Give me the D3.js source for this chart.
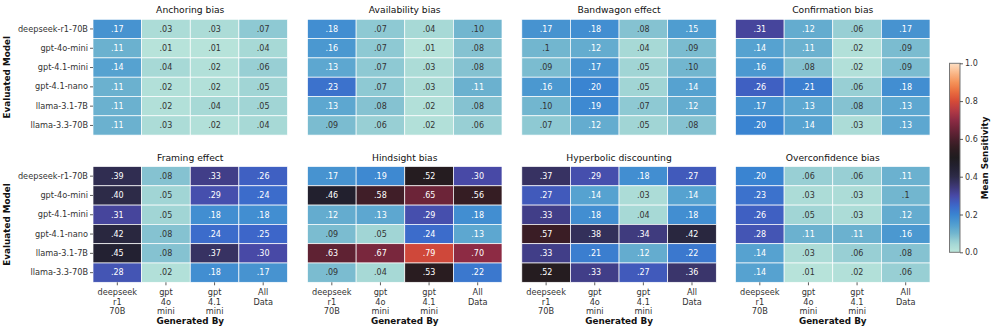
<!DOCTYPE html>
<html>
<head>
<meta charset="utf-8">
<script src="https://cdn.jsdelivr.net/npm/d3@7"></script>
<style>
  body { margin: 0; background: #fff; }
  svg { font-family: 'DejaVu Sans', sans-serif; }
</style>
</head>
<body>
<div id="chart"></div>
<script>
const models = ['deepseek-r1-70B', 'gpt-4o-mini', 'gpt-4.1-mini', 'gpt-4.1-nano', 'llama-3.1-7B', 'llama-3.3-70B']
const generators = [['deepseek', 'r1', '70B'], ['gpt', '4o', 'mini'], ['gpt', '4.1', 'mini'], ['All', 'Data']]
const colorTicks = [0, 0.2, 0.4, 0.6, 0.8, 1.0]

// one row per evaluated model, one column per generator (labels as printed)
const anchoring = [
  ['.17', '.03', '.03', '.07'],
  ['.11', '.01', '.01', '.04'],
  ['.14', '.04', '.02', '.06'],
  ['.11', '.02', '.02', '.05'],
  ['.11', '.02', '.04', '.05'],
  ['.11', '.03', '.02', '.04']
]
const availability = [
  ['.18', '.07', '.04', '.10'],
  ['.16', '.07', '.01', '.08'],
  ['.13', '.07', '.03', '.08'],
  ['.23', '.07', '.03', '.11'],
  ['.13', '.08', '.02', '.08'],
  ['.09', '.06', '.02', '.06']
]
const bandwagon = [
  ['.17', '.18', '.08', '.15'],
  ['.1', '.12', '.04', '.09'],
  ['.09', '.17', '.05', '.10'],
  ['.16', '.20', '.05', '.14'],
  ['.10', '.19', '.07', '.12'],
  ['.07', '.12', '.05', '.08']
]
const confirmation = [
  ['.31', '.12', '.06', '.17'],
  ['.14', '.11', '.02', '.09'],
  ['.16', '.08', '.02', '.09'],
  ['.26', '.21', '.06', '.18'],
  ['.17', '.13', '.08', '.13'],
  ['.20', '.14', '.03', '.13']
]
const framing = [
  ['.39', '.08', '.33', '.26'],
  ['.40', '.05', '.29', '.24'],
  ['.31', '.05', '.18', '.18'],
  ['.42', '.08', '.24', '.25'],
  ['.45', '.08', '.37', '.30'],
  ['.28', '.02', '.18', '.17']
]
const hindsight = [
  ['.17', '.19', '.52', '.30'],
  ['.46', '.58', '.65', '.56'],
  ['.12', '.13', '.29', '.18'],
  ['.09', '.05', '.24', '.13'],
  ['.63', '.67', '.79', '.70'],
  ['.09', '.04', '.53', '.22']
]
const hyperbolic = [
  ['.37', '.29', '.18', '.27'],
  ['.27', '.14', '.03', '.14'],
  ['.33', '.18', '.04', '.18'],
  ['.57', '.38', '.34', '.42'],
  ['.33', '.21', '.12', '.22'],
  ['.52', '.33', '.27', '.36']
]
const overconfidence = [
  ['.20', '.06', '.06', '.11'],
  ['.23', '.03', '.03', '.1'],
  ['.26', '.05', '.03', '.12'],
  ['.28', '.11', '.11', '.16'],
  ['.14', '.03', '.06', '.08'],
  ['.14', '.01', '.02', '.06']
]

const panels = [
  { title: 'Anchoring bias', cells: anchoring },
  { title: 'Availability bias', cells: availability },
  { title: 'Bandwagon effect', cells: bandwagon },
  { title: 'Confirmation bias', cells: confirmation },
  { title: 'Framing effect', cells: framing },
  { title: 'Hindsight bias', cells: hindsight },
  { title: 'Hyperbolic discounting', cells: hyperbolic },
  { title: 'Overconfidence bias', cells: overconfidence }
]

const W = 997
const H = 333
const panelW = 194.5
const panelH = 115.8
const panelX = [93, 307.5, 521.8, 735.5]
const panelY = [19.3, 166.5]

const svg = d3
  .select('#chart')
  .append('svg')
  .attr('width', W)
  .attr('height', H)

// icefire-like colormap, estimated from the colorbar
const icefire = d3
  .scaleLinear()
  .domain([0, 0.05, 0.1, 0.15, 0.2, 0.25, 0.3, 0.35, 0.4, 0.45, 0.5, 0.55, 0.6, 0.65, 0.7, 0.75, 0.8, 0.85, 0.9, 0.95, 1])
  .range(['#bde7db', '#a1d5d5', '#72b6cf', '#4f9dd0', '#3a84d1', '#3d66c9', '#4849a6', '#3d3774', '#2d2b48', '#232132', '#1f1c1f', '#2f1c21', '#4b1f2c', '#6c2438', '#8d2b44', '#b43a45', '#d64b37', '#ea6d3e', '#f59359', '#fab98a', '#fddfc4'])
  .interpolate(d3.interpolateRgb)
  .clamp(true)

function textColor(v) {
  const c = d3.rgb(icefire(v))
  const lin = x => {
    x = x / 255
    return x <= 0.03928 ? x / 12.92 : Math.pow((x + 0.055) / 1.055, 2.4)
  }
  const lum = 0.2126 * lin(c.r) + 0.7152 * lin(c.g) + 0.0722 * lin(c.b)
  return lum > 0.408 ? '#333333' : '#ffffff'
}

const x = d3.scaleBand().domain(d3.range(generators.length)).range([0, panelW])
const y = d3.scaleBand().domain(models).range([0, panelH])

panels.forEach((p, i) => {
  const col = i % 4
  const row = Math.floor(i / 4)
  const g = svg
    .append('g')
    .attr('transform', 'translate(' + panelX[col] + ',' + panelY[row] + ')')

  const flat = []
  p.cells.forEach((r, ri) => {
    r.forEach((label, ci) => {
      flat.push({ model: models[ri], gen: ci, label: label, value: +label })
    })
  })

  g.selectAll('rect')
    .data(flat)
    .enter()
    .append('rect')
    .attr('x', d => x(d.gen))
    .attr('y', d => y(d.model))
    .attr('width', x.bandwidth())
    .attr('height', y.bandwidth())
    .attr('fill', d => icefire(d.value))
    .attr('stroke', '#fff')
    .attr('stroke-width', 0.7)

  g.selectAll('text.val')
    .data(flat)
    .enter()
    .append('text')
    .attr('class', 'val')
    .attr('x', d => x(d.gen) + x.bandwidth() / 2)
    .attr('y', d => y(d.model) + y.bandwidth() / 2)
    .attr('dy', '0.35em')
    .attr('text-anchor', 'middle')
    .style('font-size', '8px')
    .attr('fill', d => textColor(d.value))
    .text(d => d.label)

  g.append('text')
    .attr('x', panelW / 2)
    .attr('y', -6)
    .attr('text-anchor', 'middle')
    .style('font-size', '9.2px')
    .attr('fill', '#111')
    .text(p.title)

  if (col === 0) {
    const yAxis = g.append('g').call(d3.axisLeft(y).tickSize(3).tickPadding(2))
    yAxis.select('.domain').remove()
    yAxis.selectAll('line').attr('stroke', '#333').attr('stroke-width', 0.8)
    yAxis.selectAll('text').style('font-size', '8.2px').attr('fill', '#333').style('font-family', 'DejaVu Sans')

    g.append('text')
      .attr('transform', 'translate(' + (-83) + ',' + panelH / 2 + ') rotate(-90)')
      .attr('text-anchor', 'middle')
      .style('font-size', '8.8px')
      .style('font-weight', 'bold')
      .attr('fill', '#111')
      .text('Evaluated Model')
  }

  if (row === 1) {
    const xAxis = g
      .append('g')
      .attr('transform', 'translate(0,' + panelH + ')')
      .call(d3.axisBottom(x).tickSize(3).tickFormat(''))
    xAxis.select('.domain').remove()
    xAxis.selectAll('line').attr('stroke', '#333').attr('stroke-width', 0.8)

    generators.forEach((lines, gi) => {
      const t = g
        .append('text')
        .attr('x', x(gi) + x.bandwidth() / 2)
        .attr('y', panelH + 13)
        .attr('text-anchor', 'middle')
        .style('font-size', '8.2px')
        .attr('fill', '#333')
      lines.forEach((s, li) => {
        t.append('tspan')
          .attr('x', x(gi) + x.bandwidth() / 2)
          .attr('dy', li === 0 ? 0 : 9.3)
          .text(s)
      })
    })

    g.append('text')
      .attr('x', panelW / 2)
      .attr('y', panelH + 41.5)
      .attr('text-anchor', 'middle')
      .style('font-size', '8.8px')
      .style('font-weight', 'bold')
      .attr('fill', '#111')
      .text('Generated By')
  }
})

// colorbar
const cbX = 949.5
const cbY = 63.3
const cbW = 10.5
const cbH = 189
const defs = svg.append('defs')
const grad = defs
  .append('linearGradient')
  .attr('id', 'cbgrad')
  .attr('x1', 0)
  .attr('x2', 0)
  .attr('y1', 1)
  .attr('y2', 0)
d3.range(0, 1.0001, 0.02).forEach(t => {
  grad.append('stop').attr('offset', t).attr('stop-color', icefire(t))
})

const cScale = d3.scaleLinear().domain([0, 1]).range([cbY + cbH, cbY])
svg
  .append('rect')
  .attr('x', cbX)
  .attr('y', cbY)
  .attr('width', cbW)
  .attr('height', cbH)
  .attr('fill', 'url(#cbgrad)')
  .attr('stroke', '#777')
  .attr('stroke-width', 1)

const cAxis = svg
  .append('g')
  .attr('transform', 'translate(' + (cbX + cbW) + ',0)')
  .call(d3.axisRight(cScale).tickValues(colorTicks).tickFormat(d3.format('.1f')).tickSize(3).tickPadding(2))
cAxis.select('.domain').remove()
cAxis.selectAll('line').attr('stroke', '#333').attr('stroke-width', 0.8)
cAxis.selectAll('text').style('font-size', '8px').attr('fill', '#333').style('font-family', 'DejaVu Sans')

svg
  .append('text')
  .attr('transform', 'translate(' + 987.5 + ',' + (cbY + cbH / 2) + ') rotate(-90)')
  .attr('text-anchor', 'middle')
  .style('font-size', '8.8px')
  .style('font-weight', 'bold')
  .attr('fill', '#111')
  .text('Mean Sensitivity')
</script>
</body>
</html>
